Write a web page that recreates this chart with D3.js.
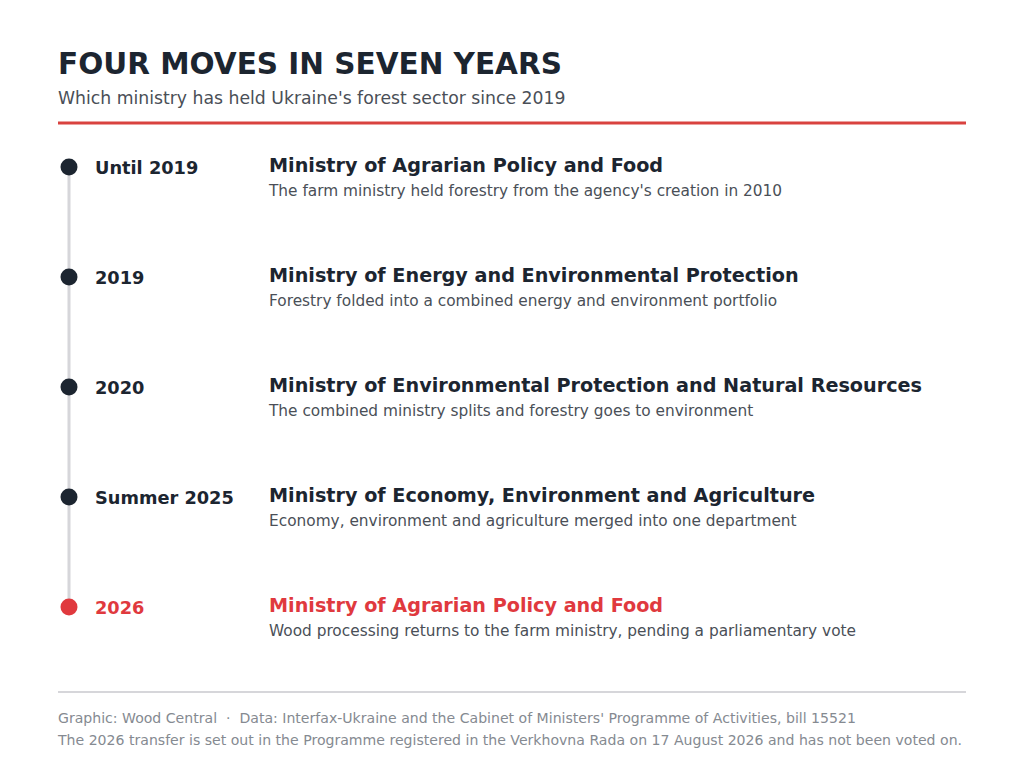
<!DOCTYPE html>
<html>
<head>
<meta charset="utf-8">
<script src="https://cdn.jsdelivr.net/npm/d3@7"></script>
<style>
  body { margin: 0; background: #fff; }
  svg { display: block; font-family: "DejaVu Sans", sans-serif; }
</style>
</head>
<body>
<script>
//timeline data
var periods = ["Until 2019", "2019", "2020", "Summer 2025", "2026"];
var ministries = [
    "Ministry of Agrarian Policy and Food",
    "Ministry of Energy and Environmental Protection",
    "Ministry of Environmental Protection and Natural Resources",
    "Ministry of Economy, Environment and Agriculture",
    "Ministry of Agrarian Policy and Food"
];
var notes = [
    "The farm ministry held forestry from the agency's creation in 2010",
    "Forestry folded into a combined energy and environment portfolio",
    "The combined ministry splits and forestry goes to environment",
    "Economy, environment and agriculture merged into one department",
    "Wood processing returns to the farm ministry, pending a parliamentary vote"
];
var highlighted = [false, false, false, false, true];

var width = 1024, height = 768;
var dark = "#1c2530", red = "#e0393e", grey = "#4a4f57";

var svg = d3.select("body").append("svg")
    .attr("width", width)
    .attr("height", height);

//title block
svg.append("text")
    .attr("x", 58).attr("y", 74)
    .attr("font-size", 29.5).attr("font-weight", "bold")
    .attr("fill", dark)
    .text("FOUR MOVES IN SEVEN YEARS");

svg.append("text")
    .attr("x", 58).attr("y", 104)
    .attr("font-size", 17.25)
    .attr("fill", grey)
    .text("Which ministry has held Ukraine's forest sector since 2019");

svg.append("line")
    .attr("x1", 58).attr("x2", 966)
    .attr("y1", 123).attr("y2", 123)
    .attr("stroke", "#d9423f").attr("stroke-width", 3);

//vertical position for each step
var y = d3.scalePoint()
    .domain(d3.range(periods.length))
    .range([167, 607]);

var dotX = 69;

svg.append("line")
    .attr("x1", dotX).attr("x2", dotX)
    .attr("y1", y(0)).attr("y2", y(periods.length - 1))
    .attr("stroke", "#d6d6da").attr("stroke-width", 3);

var rows = svg.selectAll(".row")
    .data(periods)
    .enter()
    .append("g")
    .attr("class", "row")
    .attr("transform", function(d, i){ return "translate(0," + y(i) + ")"; });

rows.append("circle")
    .attr("cx", dotX).attr("cy", 0).attr("r", 8.5)
    .attr("fill", function(d, i){ return highlighted[i] ? red : dark; });

rows.append("text")
    .attr("x", 95).attr("y", 7)
    .attr("font-size", 17.75).attr("font-weight", "bold")
    .attr("fill", function(d, i){ return highlighted[i] ? red : dark; })
    .text(function(d){ return d; });

rows.append("text")
    .attr("x", 269).attr("y", 5)
    .attr("font-size", 19.2).attr("font-weight", "bold")
    .attr("fill", function(d, i){ return highlighted[i] ? red : dark; })
    .text(function(d, i){ return ministries[i]; });

rows.append("text")
    .attr("x", 269).attr("y", 29)
    .attr("font-size", 15.35)
    .attr("fill", grey)
    .text(function(d, i){ return notes[i]; });

//footer
svg.append("line")
    .attr("x1", 58).attr("x2", 966)
    .attr("y1", 692).attr("y2", 692)
    .attr("stroke", "#d6d6da").attr("stroke-width", 2);

svg.append("text")
    .attr("x", 58).attr("y", 723)
    .attr("font-size", 14.08).attr("fill", "#858a91")
    .style("white-space", "pre")
    .text("Graphic: Wood Central  \u00b7  Data: Interfax-Ukraine and the Cabinet of Ministers' Programme of Activities, bill 15521");

svg.append("text")
    .attr("x", 58).attr("y", 745)
    .attr("font-size", 14.08).attr("fill", "#858a91")
    .text("The 2026 transfer is set out in the Programme registered in the Verkhovna Rada on 17 August 2026 and has not been voted on.");
</script>
</body>
</html>
